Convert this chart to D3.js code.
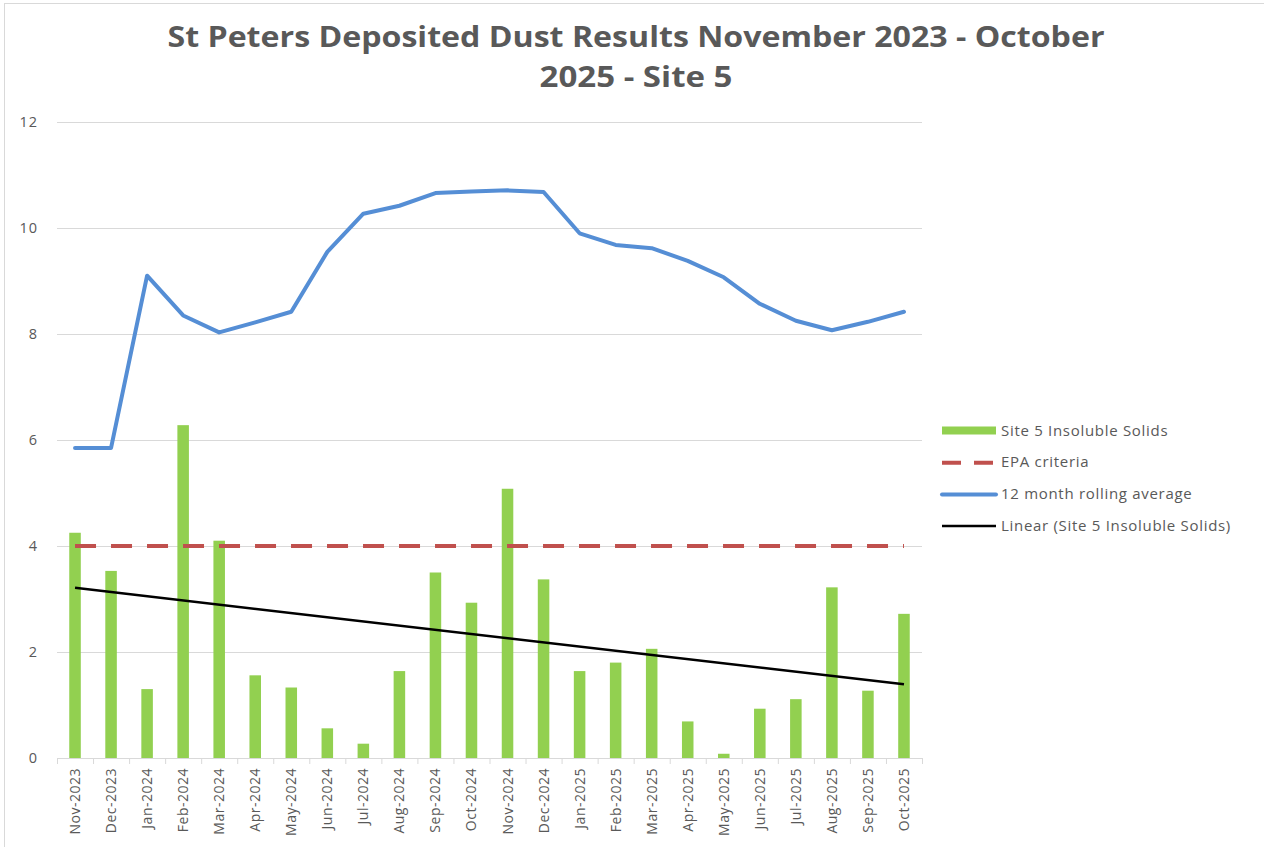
<!DOCTYPE html>
<html>
<head>
<meta charset="utf-8">
<script src="https://cdn.jsdelivr.net/npm/d3@7"></script>
<style>
  body { margin: 0; background: #fff; }
  text { font-family: "Open Sans", "Noto Sans", sans-serif; fill: #595959; }
</style>
</head>
<body>
<script>
const months = ['Nov-2023', 'Dec-2023', 'Jan-2024', 'Feb-2024', 'Mar-2024', 'Apr-2024', 'May-2024', 'Jun-2024',
	'Jul-2024', 'Aug-2024', 'Sep-2024', 'Oct-2024', 'Nov-2024', 'Dec-2024', 'Jan-2025', 'Feb-2025',
	'Mar-2025', 'Apr-2025', 'May-2025', 'Jun-2025', 'Jul-2025', 'Aug-2025', 'Sep-2025', 'Oct-2025']
const solids = [4.25, 3.53, 1.3, 6.28, 4.1, 1.56, 1.33, 0.56, 0.27, 1.64, 3.5, 2.93,
	5.08, 3.37, 1.64, 1.8, 2.06, 0.69, 0.08, 0.93, 1.11, 3.22, 1.27, 2.72]
const rollingAvg = [5.85, 5.85, 9.1, 8.35, 8.03, 8.22, 8.42, 9.55, 10.27, 10.42, 10.66, 10.69,
	10.71, 10.68, 9.9, 9.68, 9.62, 9.38, 9.07, 8.57, 8.25, 8.07, 8.23, 8.42]
const epaCriteria = 4
const yTicks = [0, 2, 4, 6, 8, 10, 12]
const titleLines = ['St Peters Deposited Dust Results November 2023 - October', '2025 - Site 5']
const legendLabels = ['Site 5 Insoluble Solids', 'EPA criteria', '12 month rolling average', 'Linear (Site 5 Insoluble Solids)']

const width = 1264
const height = 847
const plot = {left: 57, right: 922, top: 122, bottom: 758}

const green = '#92d050'
const red = '#c0504d'
const blue = '#558ed5'

const svg = d3.select('body')
	.append('svg')
	.attr('width', width)
	.attr('height', height)

// chart border
svg.append('rect')
	.attr('x', 4.5).attr('y', 3.5)
	.attr('width', width + 20).attr('height', height + 20)
	.attr('fill', 'none')
	.attr('stroke', '#d9d9d9')

svg.selectAll('.title')
	.data(titleLines)
	.enter()
	.append('text')
	.attr('class', 'title')
	.attr('x', 636)
	.attr('y', (d, i) => 47 + i * 40)
	.attr('text-anchor', 'middle')
	.attr('font-size', 28)
	.attr('font-weight', 700)
	.attr('textLength', (d, i) => i === 0 ? 937 : 193)
	.attr('lengthAdjust', 'spacingAndGlyphs')
	.text(d => d)

const x = d3.scaleBand()
	.domain(months)
	.range([plot.left, plot.right])
	.padding(0)

const y = d3.scaleLinear()
	.domain([0, 12])
	.range([plot.bottom, plot.top])

const cx = d => x(d) + x.bandwidth() / 2

// gridlines
svg.selectAll('.grid')
	.data(yTicks.slice(1))
	.enter()
	.append('line')
	.attr('x1', plot.left).attr('x2', plot.right)
	.attr('y1', d => y(d) + 0.5).attr('y2', d => y(d) + 0.5)
	.attr('stroke', '#d9d9d9')

// y axis labels
const yAxis = svg.append('g')
	.attr('transform', `translate(${plot.left - 19},0)`)
	.call(d3.axisLeft(y).tickValues(yTicks).tickSize(0).tickPadding(0))
yAxis.select('.domain').remove()
yAxis.selectAll('text')
	.attr('font-size', 14.5)
	.attr('letter-spacing', 1)
	.attr('font-family', null)
	.attr('fill', null)

// bars
const barW = x.bandwidth() * 0.32
svg.selectAll('.bar')
	.data(months)
	.enter()
	.append('rect')
	.attr('class', 'bar')
	.attr('x', d => cx(d) - barW / 2)
	.attr('y', (d, i) => y(solids[i]))
	.attr('width', barW)
	.attr('height', (d, i) => y(0) - y(solids[i]))
	.attr('fill', green)

// x axis
svg.append('line')
	.attr('x1', plot.left).attr('x2', plot.right)
	.attr('y1', plot.bottom + 0.5).attr('y2', plot.bottom + 0.5)
	.attr('stroke', '#d9d9d9')

svg.selectAll('.xtick')
	.data(months.concat(['end']))
	.enter()
	.append('line')
	.attr('x1', (d, i) => plot.left + i * x.step() + 0.5)
	.attr('x2', (d, i) => plot.left + i * x.step() + 0.5)
	.attr('y1', plot.bottom)
	.attr('y2', plot.bottom + 6)
	.attr('stroke', '#d9d9d9')

svg.selectAll('.xlabel')
	.data(months)
	.enter()
	.append('text')
	.attr('transform', d => `translate(${cx(d) + 5},${plot.bottom + 10}) rotate(-90)`)
	.attr('text-anchor', 'end')
	.attr('font-size', 14)
	.attr('letter-spacing', 0.5)
	.text(d => d)

// EPA criteria
svg.append('line')
	.attr('x1', cx(months[0])).attr('x2', cx(months[months.length - 1]))
	.attr('y1', y(epaCriteria)).attr('y2', y(epaCriteria))
	.attr('stroke', red)
	.attr('stroke-width', 4)
	.attr('stroke-dasharray', '21 15')

// rolling average
const line = d3.line()
	.x((d, i) => cx(months[i]))
	.y(d => y(d))

svg.append('path')
	.datum(rollingAvg)
	.attr('d', line)
	.attr('fill', 'none')
	.attr('stroke', blue)
	.attr('stroke-width', 4)
	.attr('stroke-linejoin', 'round')
	.attr('stroke-linecap', 'round')

// linear trendline of the bars (least squares)
const n = solids.length
const meanI = d3.mean(solids, (d, i) => i)
const meanV = d3.mean(solids)
const slope = d3.sum(solids, (d, i) => (i - meanI) * (d - meanV)) / d3.sum(solids, (d, i) => (i - meanI) ** 2)
const trend = [0, n - 1].map(i => meanV + slope * (i - meanI))

svg.append('line')
	.attr('x1', cx(months[0])).attr('x2', cx(months[n - 1]))
	.attr('y1', y(trend[0])).attr('y2', y(trend[1]))
	.attr('stroke', '#000')
	.attr('stroke-width', 2.5)

// legend
const legend = svg.append('g')
	.attr('transform', 'translate(942,430)')

const rows = legend.selectAll('g')
	.data(legendLabels)
	.enter()
	.append('g')
	.attr('transform', (d, i) => `translate(0,${i * 31.7})`)

rows.append('text')
	.attr('x', 59)
	.attr('y', 5.5)
	.attr('font-size', 15)
	.attr('letter-spacing', 0.7)
	.text(d => d)

legend.append('rect')
	.attr('x', 0).attr('y', -3.5)
	.attr('width', 54).attr('height', 8)
	.attr('fill', green)

legend.append('line')
	.attr('x1', 0).attr('x2', 54)
	.attr('y1', 31.7 + 1).attr('y2', 31.7 + 1)
	.attr('stroke', red)
	.attr('stroke-width', 4)
	.attr('stroke-dasharray', '19 13')

legend.append('line')
	.attr('x1', 0).attr('x2', 54)
	.attr('y1', 63.4 + 1).attr('y2', 63.4 + 1)
	.attr('stroke', blue)
	.attr('stroke-width', 4)
	.attr('stroke-linecap', 'round')

legend.append('line')
	.attr('x1', 0).attr('x2', 54)
	.attr('y1', 95.1 + 1).attr('y2', 95.1 + 1)
	.attr('stroke', '#000')
	.attr('stroke-width', 2.5)
</script>
</body>
</html>
